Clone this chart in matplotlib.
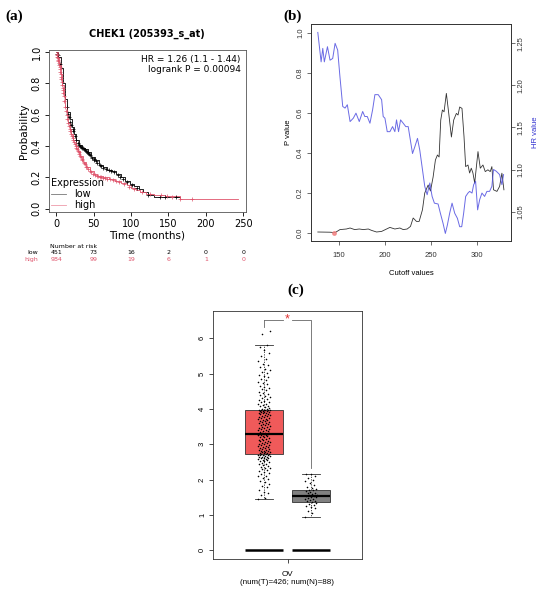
"""CHEK1 composite: KM survival (a), cutoff scan (b), expression box plot (c)."""
import matplotlib
import numpy as np

matplotlib.use('Agg')
import matplotlib.pyplot as plt
from matplotlib.transforms import blended_transform_factory

# ---------- (a) Kaplan-Meier ----------
low_t = [0, 3, 6, 9, 12, 15, 18, 21, 24, 27, 30, 34, 38, 42, 47, 52, 57, 62, 68,
         74, 80, 86, 92, 98, 104, 110, 116, 122, 130, 165]
low_s = [1.0, 0.97, 0.90, 0.80, 0.70, 0.62, 0.57, 0.52, 0.48, 0.44, 0.41, 0.39, 0.38,
         0.36, 0.33, 0.31, 0.28, 0.265, 0.25, 0.24, 0.225, 0.20, 0.18, 0.16, 0.145,
         0.125, 0.105, 0.09, 0.075, 0.075]
high_t = [0, 2, 4, 6, 8, 10, 12, 14, 16, 18, 20, 23, 26, 29, 32, 36, 40, 45, 50, 55,
          62, 70, 78, 86, 94, 100, 106, 112, 120, 130, 145, 165, 243]
high_s = [1.0, 0.96, 0.92, 0.86, 0.79, 0.72, 0.65, 0.60, 0.55, 0.51, 0.48, 0.44, 0.40,
          0.37, 0.34, 0.30, 0.27, 0.24, 0.22, 0.21, 0.20, 0.19, 0.18, 0.165, 0.15,
          0.135, 0.12, 0.11, 0.095, 0.09, 0.085, 0.06, 0.06]
low_cens = [1, 2, 3, 5, 14, 16, 17, 19, 20, 22, 23, 25, 27, 29, 31, 32, 33, 35, 36, 37,
            39, 40, 41, 43, 44, 45, 48, 50, 51, 53, 55, 58, 60, 63, 66, 70, 73, 77, 82,
            85, 89, 95, 101, 108, 123, 138, 145, 160]
high_cens = [0.5, 1, 1.5, 2, 2.5, 3, 3.5, 4, 4.5, 5, 5.5, 6, 6.5, 7, 7.5, 8, 8.5, 9, 9.5,
             10, 11, 12, 13, 14, 15, 16, 17, 18, 19, 20, 21, 22, 23, 24, 25, 26, 27, 28,
             29, 30, 31, 32, 33, 34, 35, 37, 38, 40, 41, 43, 45, 47, 49, 52, 54, 56, 58,
             60, 63, 65, 68, 72, 76, 80, 84, 90, 97, 104, 115, 125, 140, 148, 155, 166,
             182]
risk_times = [0, 50, 100, 150, 200, 250]
risk_low = [451, 73, 16, 2, 0, 0]
risk_high = [984, 99, 19, 6, 1, 0]

# ---------- (b) cutoff scan ----------
hr_cut = [126.9, 130.5, 132.3, 134, 137.4, 140.2, 143.1, 145.7, 148.5, 151, 154, 156.5,
          159, 162, 165.5, 168.4, 172, 175.7, 178, 180.7, 183.6, 186.5, 189, 192.6,
          196.3, 198, 199.9, 202.4, 205.3, 208.2, 210.7, 212.5, 214.7, 216.9, 219.8,
          222.6, 225.2, 229.9, 232.4, 235.3, 237.8, 240.7, 243.2, 245.8, 248.7, 251.2,
          253.7, 257.7, 260.2, 263.1, 265.6, 267.8, 270.3, 272.9, 275.8, 278.7, 281.2,
          283.4, 285.5, 287.7, 290.2, 292, 294.6, 296.4, 298.5, 300.7, 302.9, 305.4,
          308.3, 310.8, 313.7, 316.2, 318, 320.9, 324.6, 327.1, 328.9]
hr_val = [1.263, 1.228, 1.244, 1.228, 1.246, 1.230, 1.232, 1.250, 1.242, 1.210, 1.175,
          1.173, 1.177, 1.157, 1.161, 1.167, 1.157, 1.169, 1.163, 1.163, 1.155, 1.171,
          1.189, 1.189, 1.183, 1.163, 1.161, 1.145, 1.145, 1.151, 1.145, 1.159, 1.145,
          1.159, 1.155, 1.151, 1.151, 1.119, 1.127, 1.137, 1.123, 1.100, 1.080, 1.070,
          1.084, 1.068, 1.060, 1.059, 1.048, 1.036, 1.024, 1.034, 1.048, 1.060, 1.048,
          1.042, 1.032, 1.032, 1.048, 1.068, 1.072, 1.074, 1.072, 1.082, 1.086, 1.052,
          1.064, 1.072, 1.068, 1.074, 1.074, 1.080, 1.100, 1.098, 1.094, 1.082, 1.094]
p_cut = [126.9, 140, 145.7, 151, 158, 162, 167, 172, 176.4, 181.8, 185.4, 190.8, 196.3,
         201.7, 205.3, 210.7, 216.1, 219.8, 224.1, 227.7, 230.6, 234.2, 237.1, 240.7,
         243.2, 246.9, 249.4, 252.3, 254.8, 257, 258.8, 260.6, 262.4, 264.2, 266.7,
         269.3, 272.2, 274.7, 277.6, 279.4, 281.2, 283.7, 285.9, 287.7, 290.2, 292,
         293.8, 295.6, 297.5, 301.1, 303.6, 306.5, 309, 311.9, 314.4, 316.2, 318,
         321.7, 324.6, 327.1, 329.3]
p_val = [0.005, 0.004, 0.002, 0.017, 0.02, 0.025, 0.017, 0.02, 0.017, 0.02, 0.013, 0.005,
         0.008, 0.02, 0.028, 0.02, 0.025, 0.017, 0.02, 0.033, 0.075, 0.058, 0.058, 0.116,
         0.2, 0.24, 0.21, 0.28, 0.365, 0.39, 0.38, 0.565, 0.615, 0.606, 0.698, 0.598,
         0.48, 0.565, 0.598, 0.59, 0.63, 0.623, 0.482, 0.332, 0.34, 0.30, 0.324, 0.30,
         0.25, 0.407, 0.324, 0.34, 0.307, 0.316, 0.307, 0.332, 0.216, 0.208, 0.233,
         0.299, 0.216]
best_cut = 145
best_p = 0.0

# ---------- (c) expression box plot ----------
tumor_vals = [
    1.46, 1.48, 1.55, 1.62, 1.66, 1.71, 1.78, 1.83, 1.87, 1.92, 1.96, 2.01, 2.04, 2.09,
    2.11, 2.15, 2.19, 2.21, 2.24, 2.26, 2.29, 2.32, 2.34, 2.36, 2.39, 2.41, 2.43, 2.45,
    2.47, 2.49, 2.51, 2.52, 2.54, 2.55, 2.57, 2.58, 2.60, 2.61, 2.62, 2.63, 2.64, 2.65,
    2.66, 2.67, 2.68, 2.69, 2.70, 2.70, 2.71, 2.71,
    2.73, 2.74, 2.75, 2.76, 2.77, 2.78, 2.79, 2.80, 2.81, 2.82, 2.83, 2.84, 2.86, 2.87,
    2.88, 2.90, 2.91, 2.93, 2.94, 2.95, 2.97, 2.98, 3.00, 3.01, 3.03, 3.04, 3.06, 3.07,
    3.09, 3.10, 3.12, 3.13, 3.15, 3.16, 3.18, 3.19, 3.21, 3.22, 3.24, 3.25, 3.26, 3.27,
    3.28, 3.29, 3.30, 3.30, 3.31, 3.32, 3.33, 3.35, 3.36, 3.38, 3.39, 3.41, 3.42, 3.44,
    3.45, 3.47, 3.48, 3.50, 3.51, 3.53, 3.54, 3.56, 3.57, 3.59, 3.60, 3.62, 3.63, 3.65,
    3.66, 3.68, 3.69, 3.71, 3.72, 3.74, 3.75, 3.77, 3.78, 3.80, 3.81, 3.83, 3.84, 3.85,
    3.86, 3.87, 3.88, 3.89, 3.90, 3.91, 3.92, 3.93, 3.94, 3.95, 3.96, 3.96, 3.97, 3.97,
    3.98, 3.98,
    3.99, 4.01, 4.03, 4.05, 4.07, 4.09, 4.11, 4.13, 4.15, 4.18, 4.20, 4.23, 4.26, 4.28,
    4.31, 4.34, 4.37, 4.40, 4.43, 4.46, 4.49, 4.52, 4.55, 4.58, 4.62, 4.66, 4.70, 4.73,
    4.77, 4.81, 4.85, 4.89, 4.93, 4.97, 5.01, 5.05, 5.09, 5.13, 5.18, 5.23, 5.28, 5.35,
    5.42, 5.50, 5.58, 5.66, 5.75, 5.82, 6.12, 6.21]
normal_vals = [0.94, 1.05, 1.12, 1.18, 1.22, 1.26, 1.29, 1.32, 1.34, 1.36, 1.38, 1.40,
               1.42, 1.44, 1.46, 1.48, 1.50, 1.51, 1.52, 1.53, 1.55, 1.57, 1.59, 1.61,
               1.63, 1.65, 1.67, 1.69, 1.70, 1.72, 1.76, 1.80, 1.85, 1.90, 1.95, 2.00,
               2.05, 2.10, 2.15, 2.16]
tumor_box = dict(q1=2.72, med=3.30, q3=3.98, whislo=1.45, whishi=5.82)
normal_box = dict(q1=1.35, med=1.52, q3=1.70, whislo=0.93, whishi=2.15)
bracket_top = 6.52
bracket_right_end = 2.32

W, H = 550, 596
fig = plt.figure(figsize=(W / 100, H / 100), dpi=100)


def fx(px):
    return px / W


def fy(py):
    return 1 - py / H


RED = '#DF536B'
SANS = ['Liberation Sans', 'DejaVu Sans']

# panel labels
for lab, x, y in [('(a)', 5, 16), ('(b)', 283, 16), ('(c)', 287, 290)]:
    fig.text(fx(x), fy(y), lab, family=['Liberation Serif', 'DejaVu Serif'],
             fontsize=11, fontweight='bold', va='center', ha='left')

# ---------------- (a) ----------------
axa = fig.add_axes([fx(48.7), fy(212), fx(245.6 - 48.7), (212 - 50) / H])
axa.step(low_t, low_s, where='post', color='black', lw=0.6, label='low')
axa.step(high_t, high_s, where='post', color=RED, lw=0.6, label='high')
low_ct = np.interp(low_cens, low_t, low_s)
high_ct = np.interp(high_cens, high_t, high_s)
axa.plot(low_cens, low_ct, '+', color='black', ms=3.2, mew=0.5)
axa.plot(high_cens, high_ct, '+', color=RED, ms=3.2, mew=0.5)
axa.set_xlim(-10, 253)
axa.set_ylim(-0.02, 1.013)
axa.set_xticks([0, 50, 100, 150, 200, 250])
axa.set_yticks([0, 0.2, 0.4, 0.6, 0.8, 1.0])
axa.set_yticklabels(['0.0', '0.2', '0.4', '0.6', '0.8', '1.0'], rotation=90, va='center')
axa.tick_params(labelsize=7, length=3, width=0.6, pad=2)
for s in axa.spines.values():
    s.set_linewidth(0.6)
    s.set_color('#555555')
axa.set_ylabel('Probability', fontsize=7.5, labelpad=2)
axa.set_xlabel('Time (months)', fontsize=7.5, labelpad=1)
axa.set_title('CHEK1 (205393_s_at)', fontsize=7, fontweight='bold', pad=9.5)
axa.text(0.975, 0.97, 'HR = 1.26 (1.1 - 1.44)\nlogrank P = 0.00094', transform=axa.transAxes,
         ha='right', va='top', fontsize=6.5, linespacing=1.1)
leg = axa.legend(title='Expression', loc='lower left', frameon=False, fontsize=7,
                 title_fontsize=7, handlelength=1.6, borderaxespad=0.1, labelspacing=0.1,
                 borderpad=0.1, alignment='left', handletextpad=0.8)
for h, c in zip(leg.legend_handles, ['#777777', '#EE9AAA']):
    h.set_color(c)
tr = blended_transform_factory(axa.transData, fig.transFigure)
fig.text(fx(50), fy(246), 'Number at risk', fontsize=4.5, va='center', ha='left')
fig.text(fx(38), fy(253), 'low', fontsize=4.5, va='center', ha='right')
fig.text(fx(38), fy(260), 'high', fontsize=4.5, va='center', ha='right', color=RED)
for t, nl, nh in zip(risk_times, risk_low, risk_high):
    axa.text(t, fy(253), str(nl), transform=tr, fontsize=4.5, ha='center', va='center')
    axa.text(t, fy(260), str(nh), transform=tr, fontsize=4.5, ha='center', va='center',
             color=RED)

# ---------------- (b) ----------------
axb = fig.add_axes([fx(311), fy(241), fx(511 - 311), (241 - 24) / H])
axb.plot(p_cut, p_val, color='#333333', lw=0.6)
axb.plot([best_cut], [best_p], 'o', color='#F08080', ms=2.5, alpha=0.8)
axb.set_xlim(119.5, 337)
axb.set_ylim(-0.04, 1.045)
axb.set_xticks([150, 200, 250, 300])
axb.set_yticks([0, 0.2, 0.4, 0.6, 0.8, 1.0])
axb.set_yticklabels(['0.0', '0.2', '0.4', '0.6', '0.8', '1.0'], rotation=90, va='center',
                    family=SANS)
for lbl in axb.get_xticklabels():
    lbl.set_family(SANS)
axb.tick_params(labelsize=5.5, length=3, width=0.5, pad=2, colors='#333333')
axb.tick_params(axis='x', pad=5)
axb.set_ylabel('P value', fontsize=5.5, family=SANS, labelpad=4)
axb.set_xlabel('Cutoff values', fontsize=5.5, family=SANS, labelpad=8)
axb2 = axb.twinx()
axb2.plot(hr_cut, hr_val, color='#5050E0', lw=0.7, alpha=0.85)
axb2.set_ylim(1.015, 1.273)
axb2.set_yticks([1.05, 1.10, 1.15, 1.20, 1.25])
axb2.set_yticklabels(['1.05', '1.10', '1.15', '1.20', '1.25'], rotation=90, va='center',
                     family=SANS)
axb2.tick_params(labelsize=5.5, length=3, width=0.5, pad=2, colors='#333333')
axb2.set_ylabel('HR value', fontsize=5.5, family=SANS, color='#3030D0', labelpad=5)
for ax in (axb, axb2):
    for s in ax.spines.values():
        s.set_linewidth(0.6)
        s.set_color('#333333')

# ---------------- (c) ----------------
axc = fig.add_axes([fx(213), fy(559), fx(362 - 213), (559 - 311) / H])
boxw = 0.79
stats = []
for name, b in [('T', tumor_box), ('N', normal_box)]:
    stats.append(dict(b, label=name, fliers=[]))
bp = axc.bxp(stats, positions=[1, 2], widths=boxw, patch_artist=True, showfliers=False,
             boxprops=dict(linewidth=0.6, edgecolor='#333333'),
             medianprops=dict(color='black', linewidth=1.6),
             whiskerprops=dict(linestyle=(0, (1.5, 1.5)), linewidth=0.6, color='#333333'),
             capprops=dict(linewidth=0.6, color='#333333'), capwidths=0.4)
bp['boxes'][0].set_facecolor('#F05A5A')
bp['boxes'][1].set_facecolor('#808080')
for pos, vals in [(1, tumor_vals), (2, normal_vals)]:
    idx = np.arange(len(vals))
    jit = ((idx * 0.6180339887) % 1 - 0.5) * 0.26
    axc.scatter(pos + jit, vals, s=1.3, color='black', linewidths=0, zorder=3)
axc.hlines([0, 0], [1 - boxw / 2, 2 - boxw / 2], [1 + boxw / 2, 2 + boxw / 2],
           color='black', lw=1.8)
# significance bracket
axc.plot([1, 1], [bracket_top - 0.2, bracket_top], color='#666666', lw=0.6)
axc.plot([1, 1.4], [bracket_top, bracket_top], color='#666666', lw=0.6)
axc.plot([1.6, 2, 2], [bracket_top, bracket_top, bracket_right_end], color='#666666', lw=0.6)
axc.text(1.5, bracket_top, '*', color='#E03030', fontsize=9, ha='center', va='center',
         family=SANS)
axc.set_xlim(-0.085, 3.085)
axc.set_ylim(-0.25, 6.77)
axc.set_xticks([1.5])
axc.set_xticklabels(['OV\n(num(T)=426; num(N)=88)'], family=SANS, fontsize=5.8,
                    linespacing=1.0)
axc.set_yticks([0, 1, 2, 3, 4, 5, 6])
axc.set_yticklabels([str(v) for v in range(7)], rotation=90, va='center', family=SANS)
axc.tick_params(axis='y', labelsize=5.5, length=3, width=0.5, pad=2)
axc.tick_params(axis='x', length=3, width=0.5, pad=6)
for s in axc.spines.values():
    s.set_linewidth(0.6)
    s.set_color('#333333')

fig.savefig('out.png', dpi=100)
